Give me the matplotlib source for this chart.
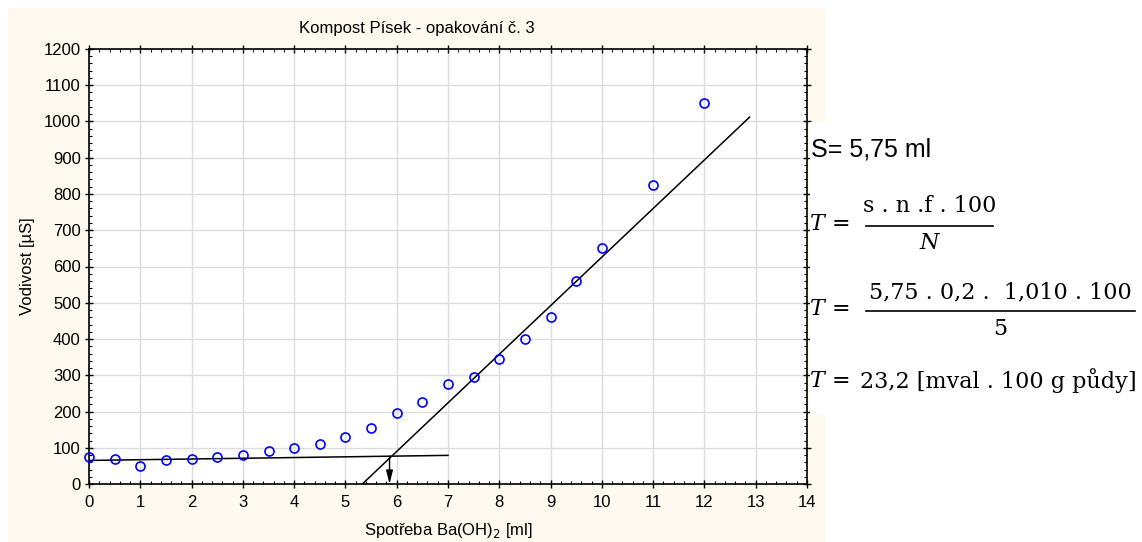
import matplotlib
matplotlib.use("Agg")
import matplotlib.pyplot as plt
from matplotlib.lines import Line2D
from matplotlib.patches import Rectangle
from matplotlib.ticker import MultipleLocator

plt.rcParams["font.family"] = ["Liberation Sans", "DejaVu Sans"]

W, H = 1142, 542

# titration: Ba(OH)2 volume [ml] vs conductivity [uS]
volume = [0, 0.5, 1, 1.5, 2, 2.5, 3, 3.5, 4, 4.5, 5, 5.5, 6, 6.5, 7, 7.5,
          8, 8.5, 9, 9.5, 10, 11, 12]
conductivity = [75, 70, 50, 65, 70, 75, 80, 92, 100, 110, 130, 155, 195, 225,
                275, 295, 345, 400, 460, 560, 650, 825, 1050]

# hand-fitted lines: flat start and steep rise
base_x = [0, 7]
base_y = [65, 79]
rise_x = [5.33, 12.88]
rise_y = [0, 1012]
equiv_x = 5.86
equiv_y = 77

title = "Kompost Písek - opakování č. 3"
xlabel = "Spotřeba Ba(OH)$_2$ [ml]"
ylabel = "Vodivost [µS]"

result_s = "S= 5,75 ml"
formula_num = "s . n .f . 100"
formula_den = "N"
calc_num = "5,75 . 0,2 .  1,010 . 100"
calc_den = "5"
result_t = "23,2 [mval . 100 g půdy]"


def fx(px):
    return px / W


def fy(py):
    return 1 - py / H


fig = plt.figure(figsize=(W / 100, H / 100), dpi=100)
fig.patch.set_facecolor("white")
fig.patches.append(Rectangle((fx(8), 0), 817 / W, 534 / H,
                             transform=fig.transFigure, facecolor="#fdf9ee",
                             edgecolor="none", zorder=-2))

ax = fig.add_axes([fx(89), fy(484), 718 / W, 435 / H])
ax.set_facecolor("white")

ax.plot(volume, conductivity, "o", mfc="none", mec="#0000ff", ms=6.5,
        mew=1.2, zorder=4, clip_on=False)
ax.plot(base_x, base_y, color="black", lw=1.1, zorder=3)
ax.plot(rise_x, rise_y, color="black", lw=1.1, zorder=3)
ax.annotate("", xy=(equiv_x, 0), xytext=(equiv_x, equiv_y),
            arrowprops=dict(arrowstyle="-|>,head_length=0.8,head_width=0.2",
                            color="black", lw=1.0, shrinkA=0, shrinkB=0),
            zorder=3)

ax.set_xlim(0, 14)
ax.set_ylim(0, 1200)
ax.xaxis.set_major_locator(MultipleLocator(1))
ax.xaxis.set_minor_locator(MultipleLocator(0.2))
ax.yaxis.set_major_locator(MultipleLocator(100))
ax.yaxis.set_minor_locator(MultipleLocator(20))
ax.tick_params(which="both", top=True, right=True, labelsize=12,
               color="black")
ax.tick_params(which="major", direction="inout", length=6, width=1)
ax.tick_params(which="minor", direction="in", length=2.5, width=0.8)
ax.tick_params(axis="x", pad=5)
ax.tick_params(axis="y", pad=3)
ax.grid(True, which="major", color="#dcdcdc", lw=1)
ax.set_axisbelow(True)
for s in ax.spines.values():
    s.set_linewidth(1.2)

# title sits centred over the whole panel, not the axes
fig.text(fx(416.5), fy(28), title, fontsize=12, ha="center", va="center")
ax.set_xlabel(xlabel, fontsize=12, labelpad=8)
ax.set_ylabel(ylabel, fontsize=12, labelpad=6)

# result box with the calculation
fig.patches.append(Rectangle((fx(810), fy(415)), 332 / W, 293 / H,
                             transform=fig.transFigure, facecolor="white",
                             edgecolor="none", zorder=1))
fig.text(fx(811), fy(150), result_s, fontsize=18, va="center", ha="left")

serif = dict(family="DejaVu Serif", fontsize=16)


def lhs(py):
    fig.text(fx(810), fy(py), "T", fontstyle="italic", va="center",
             ha="left", **serif)
    fig.text(fx(832), fy(py), "=", va="center", ha="left", **serif)


def fraction(num, den, bar_y, x0, x1, gap_up, gap_down):
    xc = (x0 + x1) / 2
    fig.text(fx(xc), fy(bar_y - gap_up), num, va="center", ha="center", **serif)
    style = "italic" if den.isalpha() else "normal"
    fig.text(fx(xc), fy(bar_y + gap_down), den, va="center", ha="center",
             fontstyle=style, **serif)
    fig.add_artist(Line2D([fx(x0), fx(x1)], [fy(bar_y), fy(bar_y)],
                          transform=fig.transFigure, color="black", lw=1.2))


lhs(224)
fraction(formula_num, formula_den, 226, 866, 993, 20, 17)
lhs(309)
fraction(calc_num, calc_den, 311, 866, 1135, 19, 18)
lhs(381)
fig.text(fx(860), fy(381), result_t, va="center", ha="left", **serif)

fig.savefig("out.png", dpi=100)
